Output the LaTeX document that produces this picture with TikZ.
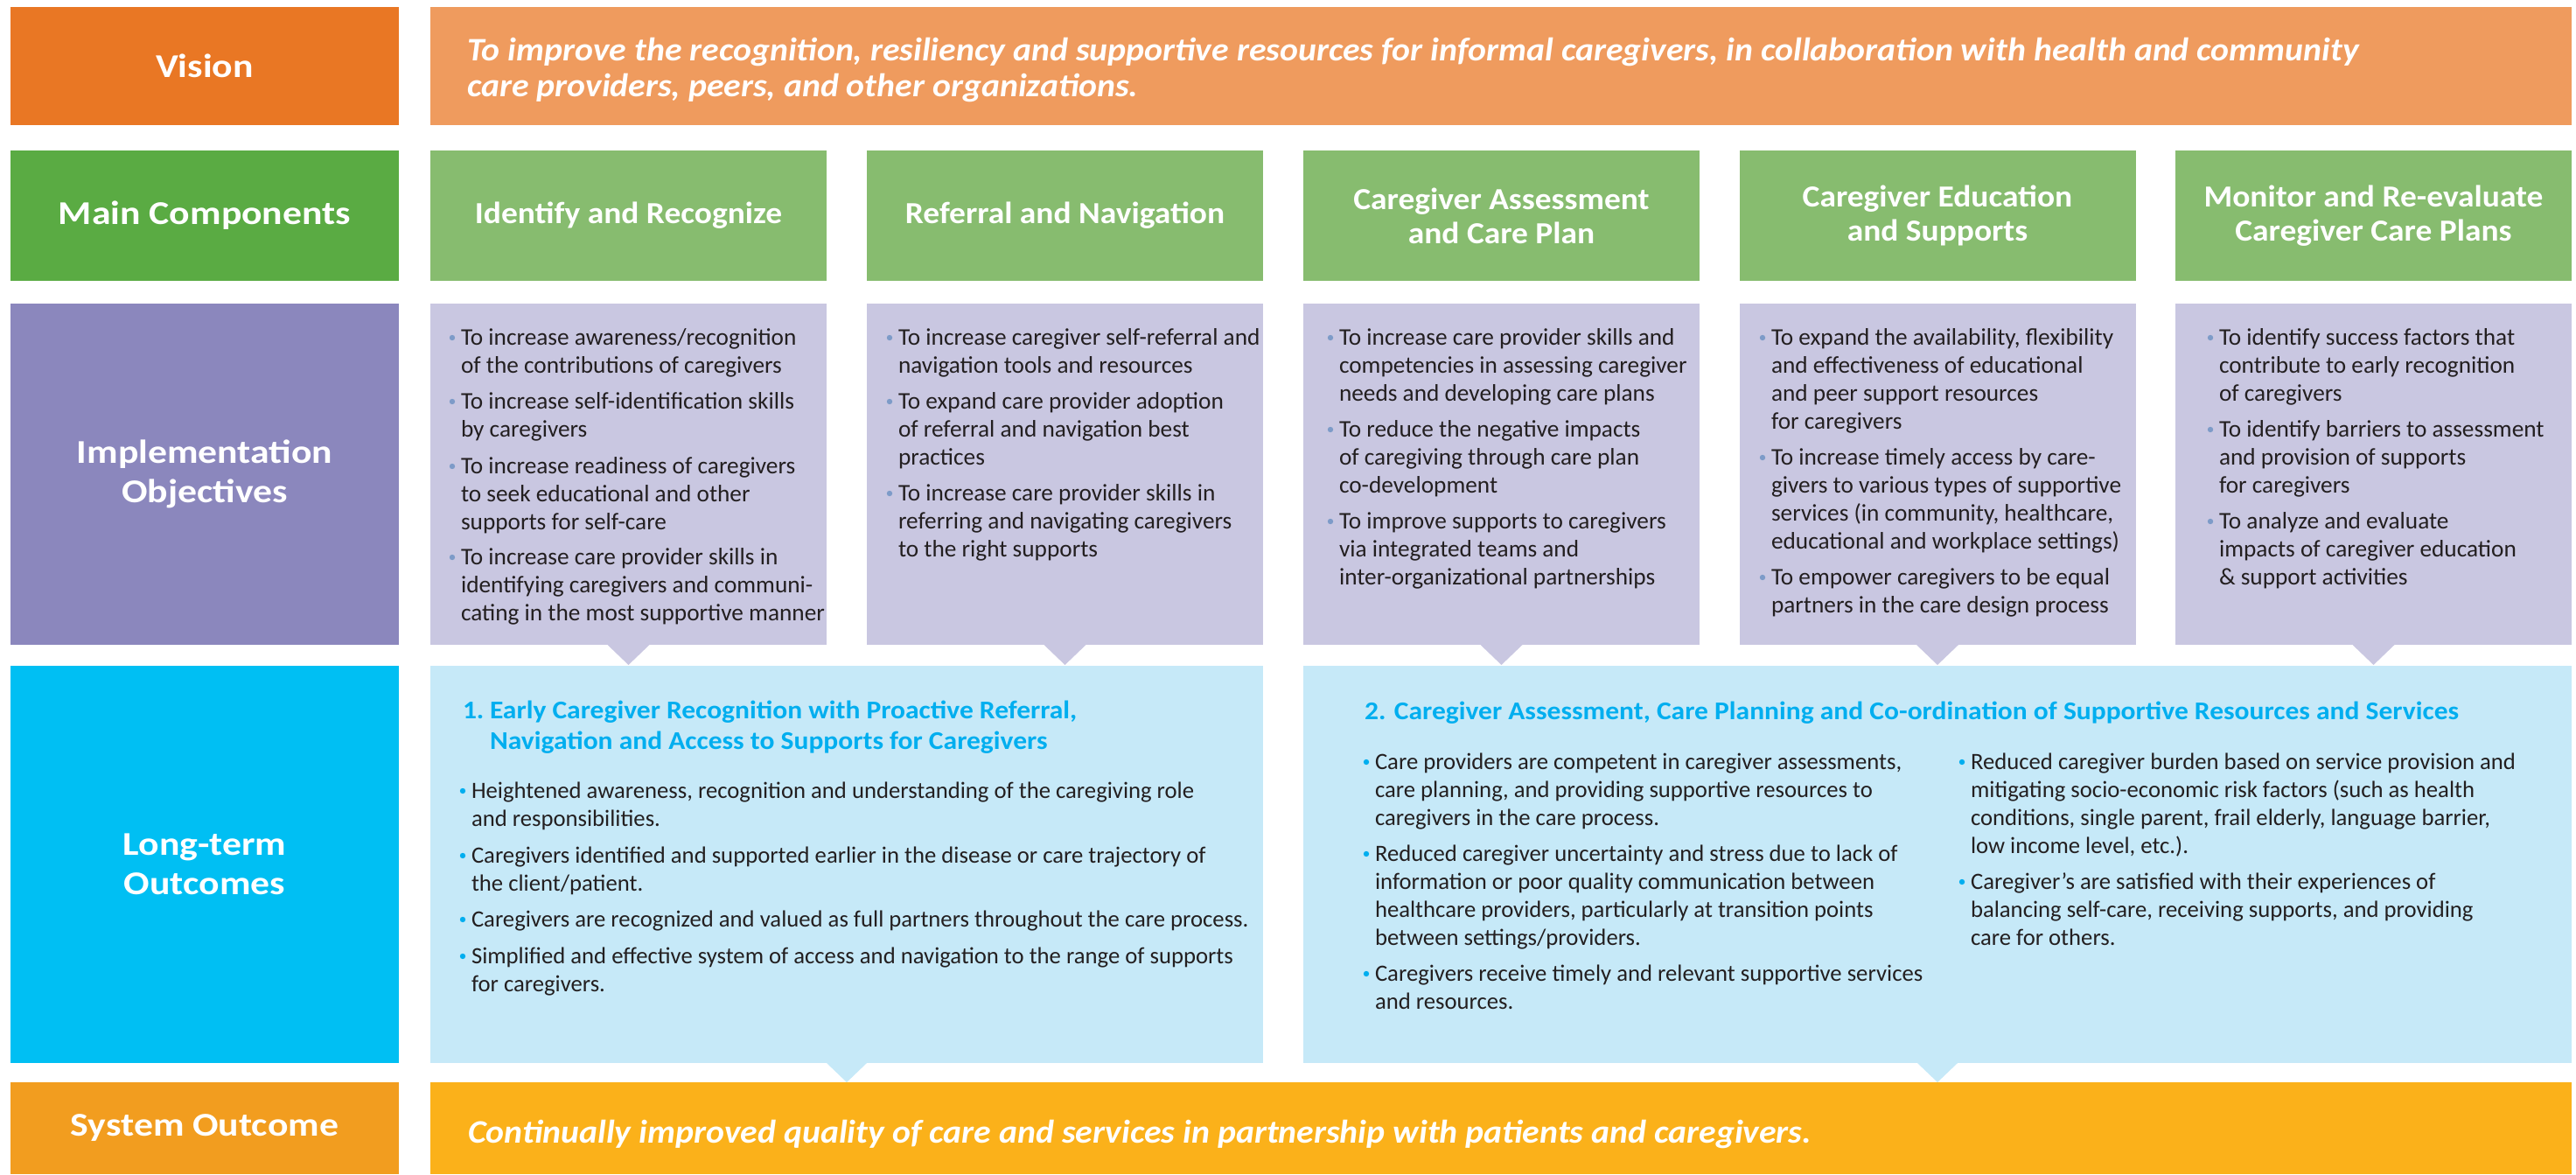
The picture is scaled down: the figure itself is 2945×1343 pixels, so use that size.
\documentclass[tikz,border=0pt]{standalone}
\usepackage{fontspec}
\setmainfont{Carlito}
\newfontfamily\lblfont[FakeStretch=1.15]{Carlito}
\newfontfamily\colfont[FakeStretch=1.07]{Carlito}
\newfontfamily\visfont[FakeStretch=1.06]{Carlito}
\newfontfamily\hdfont[FakeStretch=1.08]{Carlito}
\definecolor{visL}{HTML}{E97724}
\definecolor{visC}{HTML}{EF9B5E}
\definecolor{mainL}{HTML}{5AAB43}
\definecolor{mainC}{HTML}{87BC6F}
\definecolor{implL}{HTML}{8B87BD}
\definecolor{implC}{HTML}{C9C7E1}
\definecolor{longL}{HTML}{00BFF3}
\definecolor{longC}{HTML}{C6E9F8}
\definecolor{sysL}{HTML}{F29D1F}
\definecolor{sysC}{HTML}{FBB11A}
\definecolor{headC}{HTML}{00AEEF}
\definecolor{bodyC}{HTML}{231F20}
\definecolor{bulI}{HTML}{7D9BC8}
\definecolor{bulL}{HTML}{00AEEF}
\newcounter{tl}
\tikzset{
  rect/.style={rectangle, inner sep=0, outer sep=0, draw=none},
  lbl/.style={rect, text=white, align=center, font=\lblfont\fontsize{38}{45}\selectfont\bfseries},
  colh/.style={rect, fill=mainC, text=white, align=center, minimum width=453, minimum height=149, font=\colfont\fontsize{35}{39}\selectfont\bfseries},
  implbox/.style={rect, fill=implC, minimum width=453, minimum height=390},
  txt/.style={anchor=base west, inner sep=0, outer sep=0, text=bodyC, font=\fontsize{27.3}{32}\selectfont},
  ltxt/.style={txt, font=\fontsize{26.7}{32}\selectfont},
  hd/.style={anchor=base west, inner sep=0, outer sep=0, text=headC, font=\hdfont\fontsize{29.2}{35}\selectfont\bfseries},
  vis/.style={anchor=base west, inner sep=0, outer sep=0, text=white, font=\visfont\fontsize{37.5}{41}\selectfont\bfseries\itshape},
}
% bullet item: #1 text style, #2 bullet colour, #3 x of text, #4 baseline of first line, #5 {{line},{line},...}
\newcommand\bitem[5]{%
  \fill[#2] (#3-10,#4-8) circle (3.2);
  \foreach \tline [count=\i] in {#5} {%
    \stepcounter{tl}%
    \node[#1] (t\arabic{tl}) at (#3,#4+32*\i-32) {\tline};
  }%
}
\begin{document}
\begin{tikzpicture}[x=1pt,y=-1pt]
\useasboundingbox (0,0) rectangle (2945,1343);
% ---------------- Vision
\node[lbl, fill=visL, minimum width=444, minimum height=135] (vL) at (234,75.5) {Vision};
\node[rect, fill=visC, minimum width=2448, minimum height=135] (vC) at (1716,75.5) {};
\node[vis] (v1) at (534,70) {To improve the recognition, resiliency and supportive resources for informal caregivers, in collaboration with health and community};
\node[vis] (v2) at (534,111) {care providers, peers, and other organizations.};
% ---------------- Main components
\node[lbl, fill=mainL, minimum width=444, minimum height=149] (mL) at (234,246.5) {Main Components};
\node[colh] (m1) at (718.5,246.5) {Identify and Recognize};
\node[colh] (m2) at (1217.5,246.5) {Referral and Navigation};
\node[colh] (m3) at (1716.5,246.5) {Caregiver Assessment\\and Care Plan};
\node[colh] (m4) at (2215,246.5) {Caregiver Education\\and Supports};
\node[colh] (m5) at (2713.5,246.5) {Monitor and Re-evaluate\\Caregiver Care Plans};
% ---------------- Implementation objectives
\node[lbl, fill=implL, minimum width=444, minimum height=390] (iL) at (234,542) {Implementation\\Objectives};
\node[implbox] (i1) at (718.5,542) {};
\node[implbox] (i2) at (1217.5,542) {};
\node[implbox] (i3) at (1716.5,542) {};
\node[implbox] (i4) at (2215,542) {};
\node[implbox] (i5) at (2713.5,542) {};
\foreach \b in {i1,i2,i3,i4,i5}{
  \fill[implC] ([xshift=-24pt]\b.south) -- ([xshift=24pt]\b.south) -- ([yshift=-23pt]\b.south) -- cycle;
}
% col 1
\bitem{txt}{bulI}{527}{394}{{To increase awareness/recognition},{of the contributions of caregivers}}
\bitem{txt}{bulI}{527}{467}{{To increase self-identification skills},{by caregivers}}
\bitem{txt}{bulI}{527}{541}{{To increase readiness of caregivers},{to seek educational and other},{supports for self-care}}
\bitem{txt}{bulI}{527}{645}{{To increase care provider skills in},{identifying caregivers and communi-},{cating in the most supportive manner}}
% col 2
\bitem{txt}{bulI}{1027}{394}{{To increase caregiver self-referral and},{navigation tools and resources}}
\bitem{txt}{bulI}{1027}{467}{{To expand care provider adoption},{of referral and navigation best},{practices}}
\bitem{txt}{bulI}{1027}{572}{{To increase care provider skills in},{referring and navigating caregivers},{to the right supports}}
% col 3
\bitem{txt}{bulI}{1531}{394}{{To increase care provider skills and},{competencies in assessing caregiver},{needs and developing care plans}}
\bitem{txt}{bulI}{1531}{499}{{To reduce the negative impacts},{of caregiving through care plan},{co-development}}
\bitem{txt}{bulI}{1531}{604}{{To improve supports to caregivers},{via integrated teams and},{inter-organizational partnerships}}
% col 4
\bitem{txt}{bulI}{2025}{394}{{To expand the availability, flexibility},{and effectiveness of educational},{and peer support resources},{for caregivers}}
\bitem{txt}{bulI}{2025}{531}{{To increase timely access by care-},{givers to various types of supportive},{services (in community, healthcare,},{educational and workplace settings)}}
\bitem{txt}{bulI}{2025}{668}{{To empower caregivers to be equal},{partners in the care design process}}
% col 5
\bitem{txt}{bulI}{2537}{394}{{To identify success factors that},{contribute to early recognition},{of caregivers}}
\bitem{txt}{bulI}{2537}{499}{{To identify barriers to assessment},{and provision of supports},{for caregivers}}
\bitem{txt}{bulI}{2537}{604}{{To analyze and evaluate},{impacts of caregiver education},{\& support activities}}
% ---------------- Long-term outcomes
\node[lbl, fill=longL, minimum width=444, minimum height=454] (lL) at (234,988) {Long-term\\Outcomes};
\node[rect, fill=longC, minimum width=952, minimum height=454] (l1) at (968,988) {};
\node[rect, fill=longC, minimum width=1450, minimum height=454] (l2) at (2215,988) {};
\foreach \b in {l1,l2}{
  \fill[longC] ([xshift=-23pt]\b.south) -- ([xshift=23pt]\b.south) -- ([yshift=-22pt]\b.south) -- cycle;
}
\node[hd] (h1n) at (529,821) {1.};
\node[hd] (h1a) at (560,821) {Early Caregiver Recognition with Proactive Referral,};
\node[hd] (h1b) at (560,856) {Navigation and Access to Supports for Caregivers};
\bitem{ltxt}{bulL}{539}{912}{{Heightened awareness, recognition and understanding of the caregiving role},{and responsibilities.}}
\bitem{ltxt}{bulL}{539}{986}{{Caregivers identified and supported earlier in the disease or care trajectory of},{the client/patient.}}
\bitem{ltxt}{bulL}{539}{1059}{{Caregivers are recognized and valued as full partners throughout the care process.}}
\bitem{ltxt}{bulL}{539}{1101}{{Simplified and effective system of access and navigation to the range of supports},{for caregivers.}}
\node[hd] (h2) at (1560,822) {2. Caregiver Assessment, Care Planning and Co-ordination of Supportive Resources and Services};
\bitem{ltxt}{bulL}{1572}{879}{{Care providers are competent in caregiver assessments,},{care planning, and providing supportive resources to},{caregivers in the care process.}}
\bitem{ltxt}{bulL}{1572}{984}{{Reduced caregiver uncertainty and stress due to lack of},{information or poor quality communication between},{healthcare providers, particularly at transition points},{between settings/providers.}}
\bitem{ltxt}{bulL}{1572}{1121}{{Caregivers receive timely and relevant supportive services},{and resources.}}
\bitem{ltxt}{bulL}{2253}{879}{{Reduced caregiver burden based on service provision and},{mitigating socio-economic risk factors (such as health},{conditions, single parent, frail elderly, language barrier,},{low income level, etc.).}}
\bitem{ltxt}{bulL}{2253}{1016}{{Caregiver’s are satisfied with their experiences of},{balancing self-care, receiving supports, and providing},{care for others.}}
% ---------------- System outcome
\node[lbl, fill=sysL, minimum width=444, minimum height=105] (sL) at (234,1289.5) {System Outcome};
\node[rect, fill=sysC, minimum width=2448, minimum height=105] (sC) at (1716,1289.5) {};
\node[vis] (s1) at (535,1306) {Continually improved quality of care and services in partnership with patients and caregivers.};
\end{tikzpicture}
\end{document}
